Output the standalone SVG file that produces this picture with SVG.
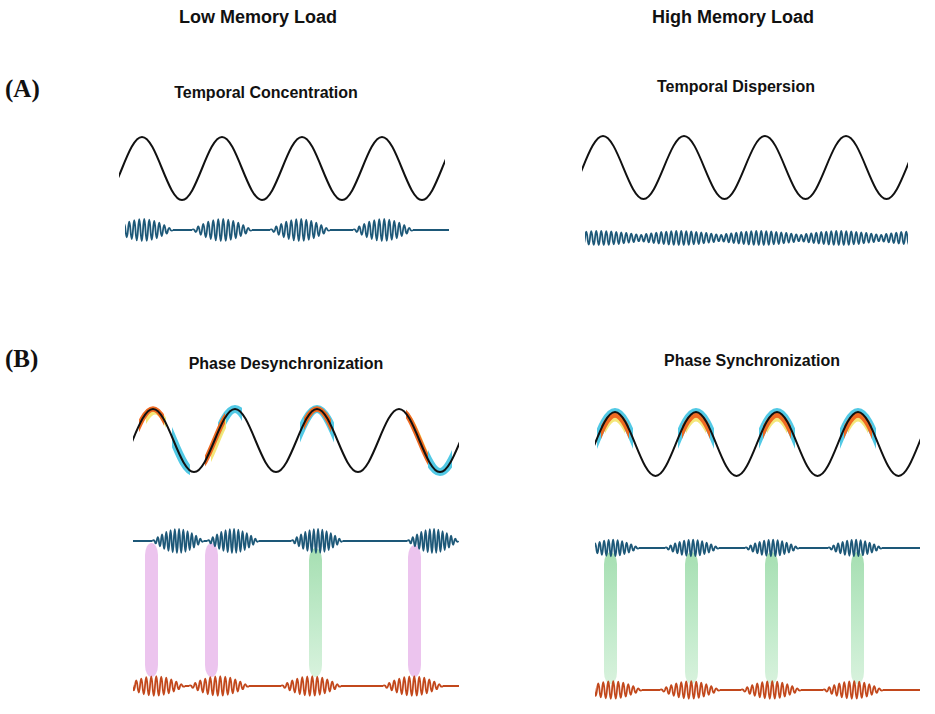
<svg xmlns="http://www.w3.org/2000/svg" xmlns:xlink="http://www.w3.org/1999/xlink" width="935" height="714" viewBox="0 0 935 714">
<style>
.t{font-family:"Liberation Sans",Arial,sans-serif;font-weight:bold;fill:#111;text-anchor:middle}
.lab{font-family:"Liberation Serif","Times New Roman",serif;font-weight:bold;fill:#111;font-size:25px}
.sine{fill:none;stroke:#111;stroke-width:2}
.bw{fill:none;stroke:#1d5878;stroke-width:1.8}
.ow{fill:none;stroke:#c2481c;stroke-width:1.8}
.hb{fill:none;stroke:#3fc3e2;stroke-width:8;stroke-linecap:round;opacity:.9}
.ho{fill:none;stroke:#ef6a22;stroke-width:5.5}
.hy{fill:none;stroke:#f3e46c;stroke-width:5;opacity:.9}
.pink{fill:#ecc4ee}
.green{fill:url(#gg)}
</style>
<defs>
<linearGradient id="gg" x1="0" y1="0" x2="0" y2="1"><stop offset="0" stop-color="#a6dfb2"/><stop offset=".6" stop-color="#c3ebcc"/><stop offset="1" stop-color="#d8f2dd"/></linearGradient>
<path id="bu" vector-effect="non-scaling-stroke" d="M0,0 q1.25,-1.4 2.5,0 q1.25,4.3 2.5,0 q1.25,-7.1 2.5,0 q1.25,9.7 2.5,0 q1.25,-12.2 2.5,0 q1.25,14.5 2.5,0 q1.25,-16.5 2.5,0 q1.25,18.3 2.5,0 q1.25,-19.7 2.5,0 q1.25,20.8 2.5,0 q1.25,-21.6 2.5,0 q1.25,22 2.5,0 q1.25,-22 2.5,0 q1.25,21.6 2.5,0 q1.25,-20.8 2.5,0 q1.25,19.7 2.5,0 q1.25,-18.3 2.5,0 q1.25,16.5 2.5,0 q1.25,-14.5 2.5,0 q1.25,12.2 2.5,0 q1.25,-9.7 2.5,0 q1.25,7.1 2.5,0 q1.25,-4.3 2.5,0 q1.25,1.4 2.5,0"/>
<path id="tone" d="M0,0 q1.25,-6.4 2.5,0 q1.25,7.2 2.5,0 q1.25,-8 2.5,0 q1.25,8.6 2.5,0 q1.25,-9.4 2.5,0 q1.25,10.2 2.5,0 q1.25,-10.8 2.5,0 q1.25,11.4 2.5,0 q1.25,-12 2.5,0 q1.25,12.4 2.5,0 q1.25,-12.8 2.5,0 q1.25,13.2 2.5,0 q1.25,-13.6 2.5,0 q1.25,13.8 2.5,0 q1.25,-14 2.5,0 q1.25,14 2.5,0 q1.25,-14 2.5,0 q1.25,14 2.5,0 q1.25,-13.8 2.5,0 q1.25,13.6 2.5,0 q1.25,-13.2 2.5,0 q1.25,12.8 2.5,0 q1.25,-12.4 2.5,0 q1.25,12 2.5,0 q1.25,-11.4 2.5,0 q1.25,10.8 2.5,0 q1.25,-10.2 2.5,0 q1.25,9.4 2.5,0 q1.25,-8.6 2.5,0 q1.25,8 2.5,0 q1.25,-7.2 2.5,0 q1.25,6.4 2.5,0"/>
<path id="sA1" d="M102,200 C116.4,200 127.6,137 142,137 S167.6,200 182,200 S207.6,137 222,137 S247.6,200 262,200 S287.6,137 302,137 S327.6,200 342,200 S367.6,137 382,137 S407.6,200 422,200 S447.6,137 462,137"/>
<path id="sA2" d="M562.5,199 C577.1,199 588.4,136 603,136 S629,199 643.5,199 S669.4,136 684,136 S710,199 724.5,199 S750.4,136 765,136 S791,199 805.5,199 S831.4,136 846,136 S872,199 886.5,199 S912.4,136 927,136"/>
<path id="sB1" d="M112,472 C126.8,472 138.2,409 153,409 S179.2,472 194,472 S220.2,409 235,409 S261.2,472 276,472 S302.2,409 317,409 S343.2,472 358,472 S384.2,409 399,409 S425.2,472 440,472 S466.2,409 481,409"/>
<path id="sB2" d="M574.5,476 C589.1,476 600.4,412 615,412 S641,476 655.5,476 S681.4,412 696,412 S722,476 736.5,476 S762.4,412 777,412 S803,476 817.5,476 S843.4,412 858,412 S884,476 898.5,476 S924.4,412 939,412"/>
<clipPath id="cA1"><rect x="119" y="100" width="326" height="160"/></clipPath>
<clipPath id="cA2"><rect x="582" y="100" width="326" height="160"/></clipPath>
<clipPath id="cB1"><rect x="133" y="380" width="326" height="320"/></clipPath>
<clipPath id="cB2"><rect x="595" y="380" width="325" height="320"/></clipPath>
<clipPath id="cTL"><rect x="125" y="200" width="324" height="60"/></clipPath>
<clipPath id="cTR"><rect x="585" y="210" width="323" height="60"/></clipPath>
<clipPath id="cRb"><rect x="597" y="380" width="36" height="120"/><rect x="678" y="380" width="36" height="120"/><rect x="759" y="380" width="36" height="120"/><rect x="840" y="380" width="36" height="120"/></clipPath>
<clipPath id="cRo"><rect x="601" y="380" width="28" height="120"/><rect x="682" y="380" width="28" height="120"/><rect x="763" y="380" width="28" height="120"/><rect x="844" y="380" width="28" height="120"/></clipPath>
<clipPath id="cRy"><rect x="605" y="380" width="20" height="120"/><rect x="686" y="380" width="20" height="120"/><rect x="767" y="380" width="20" height="120"/><rect x="848" y="380" width="20" height="120"/></clipPath>
<clipPath id="cLb"><rect x="172" y="380" width="18" height="120"/><rect x="218" y="380" width="24" height="120"/><rect x="300" y="380" width="34" height="120"/><rect x="428" y="380" width="24" height="120"/></clipPath>
<clipPath id="cLo"><rect x="139" y="380" width="25" height="120"/><rect x="205" y="380" width="20" height="120"/><rect x="304" y="380" width="27" height="120"/><rect x="406" y="380" width="22" height="120"/></clipPath>
<clipPath id="cLy"><rect x="144" y="380" width="20" height="120"/><rect x="209" y="380" width="15" height="120"/><rect x="408" y="380" width="18" height="120"/></clipPath>
</defs>

<g id="headings">
<text class="t" x="258" y="23" font-size="18">Low Memory Load</text>
<text class="t" x="733" y="23" font-size="18">High Memory Load</text>
<text class="lab" x="5" y="97">(A)</text>
<text class="lab" x="5" y="367">(B)</text>
<text class="t" x="266" y="98" font-size="16">Temporal Concentration</text>
<text class="t" x="736" y="92" font-size="16">Temporal Dispersion</text>
<text class="t" x="286" y="369" font-size="16">Phase Desynchronization</text>
<text class="t" x="752" y="366" font-size="16">Phase Synchronization</text>
</g>

<g id="panelA-low">
<use href="#sA1" class="sine" clip-path="url(#cA1)"/>
<g clip-path="url(#cTL)" class="bw">
<use href="#bu" transform="translate(113,230)"/>
<use href="#bu" transform="translate(192,230)"/>
<use href="#bu" transform="translate(270,230)"/>
<use href="#bu" transform="translate(353,230)"/>
<path d="M173,230 H192 M252,230 H270 M330,230 H353 M413,230 H449"/>
</g>
</g>

<g id="panelA-high">
<use href="#sA2" class="sine" clip-path="url(#cA2)"/>
<g clip-path="url(#cTR)" class="bw">
<use href="#tone" transform="translate(560,238)"/>
<use href="#tone" transform="translate(640,238)"/>
<use href="#tone" transform="translate(720,238)"/>
<use href="#tone" transform="translate(800,238)"/>
<use href="#tone" transform="translate(880,238)"/>
</g>
</g>

<g id="panelB-low">
<rect class="pink" x="145" y="543" width="13" height="134" rx="6.5" ry="12"/>
<rect class="pink" x="205" y="543" width="13" height="134" rx="6.5" ry="12"/>
<rect class="green" x="309" y="548" width="13" height="129" rx="6.5" ry="12"/>
<rect class="pink" x="408" y="545" width="13" height="132" rx="6.5" ry="12"/>
<use href="#sB1" class="hb" clip-path="url(#cLb)"/>
<use href="#sB1" class="hy" transform="translate(2,3)" clip-path="url(#cLy)"/>
<use href="#sB1" class="ho" clip-path="url(#cLo)"/>
<use href="#sB1" class="sine" clip-path="url(#cB1)"/>
<g class="bw" clip-path="url(#cB1)">
<use href="#bu" transform="translate(152.5,541) scale(0.85,1.09)"/>
<use href="#bu" transform="translate(207.5,541) scale(0.85,1.09)"/>
<use href="#bu" transform="translate(291.5,541) scale(0.85,1.09)"/>
<use href="#bu" transform="translate(407.5,541) scale(0.85,1.09)"/>
<path d="M133,541 H152.5 M203.5,541 H207.5 M258.5,541 H291.5 M342.5,541 H407.5"/>
</g>
<g class="ow" clip-path="url(#cB1)">
<use href="#bu" transform="translate(125,686) scale(1,0.9)"/>
<use href="#bu" transform="translate(189,686) scale(1,0.9)"/>
<use href="#bu" transform="translate(281,686) scale(1,0.9)"/>
<use href="#bu" transform="translate(383,686) scale(1,0.9)"/>
<path d="M185,686 H189 M249,686 H281 M341,686 H383 M443,686 H459"/>
</g>
</g>

<g id="panelB-high">
<rect class="green" x="604" y="552" width="13" height="132" rx="6.5" ry="12"/>
<rect class="green" x="685" y="552" width="13" height="132" rx="6.5" ry="12"/>
<rect class="green" x="765" y="552" width="13" height="132" rx="6.5" ry="12"/>
<rect class="green" x="851" y="552" width="13" height="132" rx="6.5" ry="12"/>
<use href="#sB2" class="hb" clip-path="url(#cRb)"/>
<use href="#sB2" class="hy" transform="translate(0,7)" clip-path="url(#cRy)"/>
<use href="#sB2" class="ho" transform="translate(0,3)" clip-path="url(#cRo)"/>
<use href="#sB2" class="sine" clip-path="url(#cB2)"/>
<g class="bw" clip-path="url(#cB2)">
<use href="#bu" transform="translate(585,548) scale(0.9,0.75)"/>
<use href="#bu" transform="translate(665,548) scale(0.9,0.75)"/>
<use href="#bu" transform="translate(745,548) scale(0.9,0.75)"/>
<use href="#bu" transform="translate(828,548) scale(0.9,0.75)"/>
<path d="M639,548 H665 M719,548 H745 M799,548 H828 M882,548 H920"/>
</g>
<g class="ow" clip-path="url(#cB2)">
<use href="#bu" transform="translate(582,690) scale(1,0.8)"/>
<use href="#bu" transform="translate(660,690) scale(1,0.8)"/>
<use href="#bu" transform="translate(741,690) scale(1,0.8)"/>
<use href="#bu" transform="translate(823,690) scale(1,0.8)"/>
<path d="M642,690 H660 M720,690 H741 M801,690 H823 M883,690 H920"/>
</g>
</g>
</svg>
